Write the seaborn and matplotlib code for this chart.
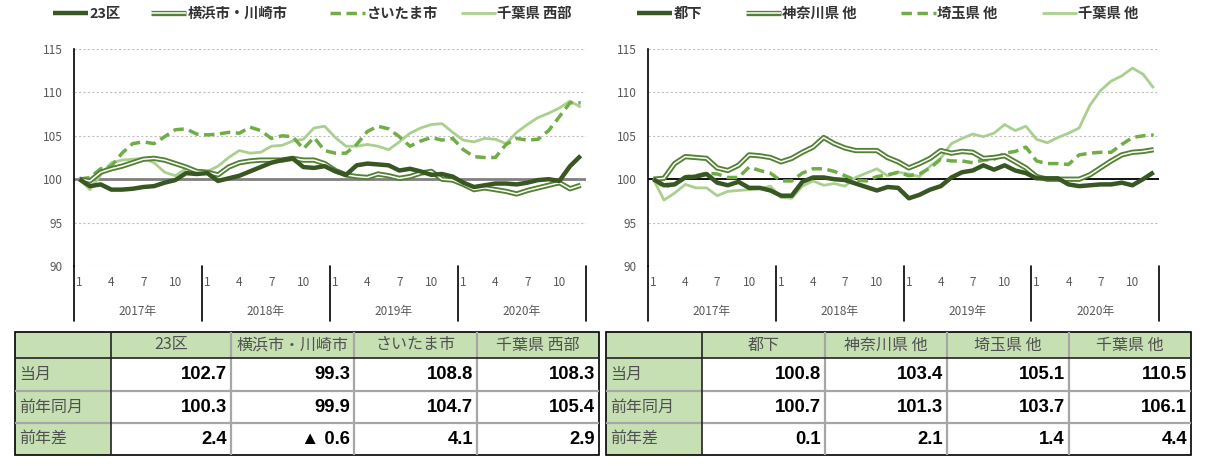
import numpy as np
import pandas as pd
import matplotlib
matplotlib.use("Agg")
import matplotlib.pyplot as plt
import matplotlib.patheffects as pe
from matplotlib.patches import Rectangle
import seaborn as sns

# ---------------- data ----------------
months = [1, 2, 3, 4, 5, 6, 7, 8, 9, 10, 11, 12] * 4
year_labels = ["2017年", "2018年", "2019年", "2020年"]

left_names = ["23区", "横浜市・川崎市", "さいたま市", "千葉県 西部"]
ku23 = [100.0, 99.2, 99.4, 98.8, 98.8, 98.9, 99.1, 99.2, 99.6, 99.9, 100.7, 100.6,
        100.7, 99.8, 100.1, 100.4, 100.9, 101.4, 101.9, 102.2, 102.4, 101.4, 101.3, 101.5,
        100.9, 100.5, 101.6, 101.8, 101.7, 101.6, 101.0, 101.2, 100.9, 100.5, 100.6, 100.3,
        99.6, 99.1, 99.3, 99.5, 99.5, 99.4, 99.6, 99.9, 100.0, 99.8, 101.5, 102.7]
yokohama = [100.0, 99.8, 100.8, 101.2, 101.5, 101.9, 102.3, 102.4, 102.2, 101.8, 101.4, 100.9,
            100.8, 100.5, 101.4, 101.9, 102.1, 102.2, 102.2, 102.2, 102.4, 102.2, 102.2, 101.8,
            101.0, 100.5, 100.3, 100.2, 100.6, 100.4, 100.1, 100.3, 100.7, 100.9, 100.0, 99.9,
            99.4, 98.8, 99.0, 98.8, 98.6, 98.3, 98.7, 99.0, 99.3, 99.6, 98.9, 99.3]
saitama = [100.0, 100.2, 101.2, 101.5, 103.0, 104.1, 104.3, 104.1, 104.9, 105.7, 105.8, 105.2,
           105.1, 105.2, 105.4, 105.3, 106.0, 105.6, 104.7, 105.0, 104.9, 103.5, 104.8, 103.3,
           103.0, 103.0, 104.0, 105.5, 106.1, 105.8, 104.9, 103.8, 104.4, 104.8, 104.5, 104.7,
           103.4, 102.6, 102.5, 102.5, 104.0, 104.7, 104.5, 104.6, 105.6, 107.2, 108.8, 108.8]
chiba_west = [100.0, 98.8, 100.5, 101.9, 102.2, 102.3, 102.4, 101.9, 100.8, 100.4, 101.2, 101.0,
              100.9, 101.5, 102.5, 103.3, 103.0, 103.1, 103.8, 103.9, 104.4, 104.6, 105.9, 106.1,
              104.8, 103.8, 103.8, 104.0, 103.8, 103.4, 104.3, 105.3, 105.9, 106.3, 106.4, 105.4,
              104.5, 104.3, 104.7, 104.6, 104.1, 105.4, 106.3, 107.1, 107.6, 108.2, 109.0, 108.3]

right_names = ["都下", "神奈川県 他", "埼玉県 他", "千葉県 他"]
tokyo_other = [100.0, 99.3, 99.4, 100.2, 100.3, 100.6, 99.6, 99.3, 99.7, 99.0, 99.0, 98.7,
               98.1, 98.1, 99.7, 100.2, 100.2, 100.0, 99.9, 99.5, 99.1, 98.7, 99.1, 99.0,
               97.8, 98.2, 98.8, 99.2, 100.2, 100.8, 101.0, 101.6, 101.1, 101.6, 101.0, 100.7,
               100.1, 100.1, 100.1, 99.4, 99.2, 99.3, 99.4, 99.4, 99.6, 99.3, 100.0, 100.8]
kanagawa_other = [100.0, 100.1, 101.8, 102.6, 102.5, 102.4, 101.3, 101.0, 101.6, 102.8, 102.7, 102.5,
                  102.0, 102.4, 103.1, 103.7, 104.8, 104.1, 103.6, 103.3, 103.3, 103.3, 102.5, 102.0,
                  101.3, 101.8, 102.4, 103.3, 103.0, 103.2, 103.1, 102.4, 102.5, 102.7, 102.0, 101.3,
                  100.3, 100.0, 100.0, 100.0, 100.0, 100.5, 101.3, 102.1, 102.8, 103.1, 103.2, 103.4]
saitama_other = [100.0, 99.1, 99.4, 100.3, 100.4, 100.7, 100.6, 100.2, 100.2, 101.4, 101.0, 100.7,
                 99.8, 99.8, 100.7, 101.2, 101.2, 100.9, 100.4, 99.9, 99.8, 100.3, 100.5, 100.8,
                 100.4, 100.6, 101.3, 102.3, 102.1, 102.1, 101.9, 102.2, 102.3, 103.0, 103.2, 103.7,
                 102.1, 101.8, 101.8, 101.7, 102.8, 103.0, 103.1, 103.1, 104.0, 104.8, 105.0, 105.1]
chiba_other = [100.0, 97.6, 98.4, 99.4, 99.0, 99.0, 98.1, 98.6, 98.7, 98.8, 98.9, 99.2,
               97.9, 97.8, 99.2, 99.8, 99.3, 99.5, 99.2, 100.2, 100.7, 101.2, 100.4, 100.8,
               100.6, 100.3, 101.5, 102.4, 104.1, 104.7, 105.2, 104.9, 105.3, 106.3, 105.6, 106.1,
               104.6, 104.2, 104.8, 105.3, 105.9, 108.5, 110.2, 111.3, 111.9, 112.8, 112.1, 110.5]

row_labels = ["当月", "前年同月", "前年差"]
left_current = [102.7, 99.3, 108.8, 108.3]
left_prev = [100.3, 99.9, 104.7, 105.4]
left_diff = [2.4, -0.6, 4.1, 2.9]
right_current = [100.8, 103.4, 105.1, 110.5]
right_prev = [100.7, 101.3, 103.7, 106.1]
right_diff = [0.1, 2.1, 1.4, 4.4]

# ---------------- style ----------------
sns.set_style("white")
plt.rcParams["font.family"] = ["Noto Sans CJK JP", "DejaVu Sans"]

W, H = 1216, 470
fig = plt.figure(figsize=(W / 100, H / 100), dpi=100)
fig.patch.set_facecolor("white")

C_DARK = "#385723"
C_MID = "#548235"
C_DASH = "#70AD47"
C_LIGHT = "#A9D08E"
TICK_C = "#595959"
GREEN_BG = "#C6E0B4"


def px_axes(x0, x1, ytop, ybot):
    return [x0 / W, 1 - ybot / H, (x1 - x0) / W, (ybot - ytop) / H]


def draw_panel(ax, series, names, ref_color, ref_lw, legend_x):
    x = np.arange(len(months))
    handles = []
    specs = [
        dict(color=C_DARK, lw=3.2, z=6, kind="solid"),
        dict(color=C_MID, lw=1.1, z=5, kind="double"),
        dict(color=C_DASH, lw=2.5, z=4, kind="dash"),
        dict(color=C_LIGHT, lw=2.0, z=3, kind="solid"),
    ]
    for vals, name, sp in zip(series, names, specs):
        df = pd.DataFrame({"x": x, "y": vals})
        if sp["kind"] == "double":
            sns.lineplot(data=df, x="x", y="y", ax=ax, color="white", linewidth=sp["lw"],
                         legend=False, label=name, zorder=sp["z"])
            ln = ax.lines[-1]
            ln.set_path_effects([pe.Stroke(linewidth=3.8, foreground=sp["color"]), pe.Normal()])
        else:
            sns.lineplot(data=df, x="x", y="y", ax=ax, color=sp["color"], linewidth=sp["lw"],
                         legend=False, label=name, zorder=sp["z"])
            ln = ax.lines[-1]
            if sp["kind"] == "dash":
                ln.set_dashes((3, 1.6))
        ln.set_solid_capstyle("butt")
        handles.append(ln)

    ax.axhline(100, color=ref_color, lw=ref_lw, zorder=2)
    ax.set_ylim(90, 115)
    ax.set_xlim(-0.5, len(months) - 0.5)
    ax.set_yticks(range(90, 116, 5))
    ax.yaxis.grid(True, color="#C0C0C0", lw=0.8, linestyle=(0, (2, 2)))
    ax.xaxis.grid(False)
    ax.set_xlabel("")
    ax.set_ylabel("")
    for s in ["top", "right", "bottom"]:
        ax.spines[s].set_visible(False)
    ax.spines["left"].set_color("black")
    ax.spines["left"].set_linewidth(1.2)
    ax.tick_params(axis="y", direction="in", length=3, width=1, color="black",
                   labelsize=8.5, labelcolor=TICK_C, pad=8)
    tick_pos = [i for i, m in enumerate(months) if m in (1, 4, 7, 10)]
    ax.set_xticks(tick_pos, [str(months[i]) for i in tick_pos])
    ax.tick_params(axis="x", length=0, labelsize=8.5, labelcolor=TICK_C, pad=7)
    ax.set_facecolor("none")

    trans = ax.get_xaxis_transform()
    sep_bottom = -55 / 217
    for k in range(len(year_labels) + 1):
        xb = k * 12 - 0.5
        ax.plot([xb, xb], [sep_bottom, 0], transform=trans, color="black", lw=1.2,
                clip_on=False, zorder=7)
    for k, yl in enumerate(year_labels):
        ax.text(k * 12 + 5.5, -45 / 217, yl, transform=trans, ha="center", va="center",
                fontsize=8.5, color=TICK_C)

    for h, name, lx in zip(handles, names, legend_x):
        fig.legend([h], [name], loc="center left", bbox_to_anchor=(lx / W, 1 - 14 / H),
                   bbox_transform=fig.transFigure, frameon=False, borderpad=0,
                   borderaxespad=0, handlelength=2.45, handletextpad=0.1,
                   prop=dict(weight="bold", size=10.3), labelcolor="#333333")


# table overlay axes in pixel coordinates
tab = fig.add_axes([0, 0, 1, 1], zorder=0)
tab.set_xlim(0, W)
tab.set_ylim(H, 0)
tab.axis("off")


def fmt(v):
    return f"▲ {abs(v):.1f}" if v < 0 else f"{v:.1f}"


def draw_table(cols, rows, names, cur, prev, diff):
    data = [cur, prev, diff]
    for r in range(len(rows) - 1):
        for c in range(len(cols) - 1):
            fc = GREEN_BG if (r == 0 or c == 0) else "white"
            tab.add_patch(Rectangle((cols[c], rows[r]), cols[c + 1] - cols[c],
                                    rows[r + 1] - rows[r], facecolor=fc, edgecolor="none"))
    gray = "#A6A6A6"
    tab.vlines(cols[2:-1], rows[0], rows[-1], colors=gray, lw=1.6)
    tab.hlines(rows[2:-1], cols[0], cols[-1], colors=gray, lw=1.6)
    tab.hlines([rows[1]], cols[0], cols[-1], colors="#222222", lw=1.2)
    tab.vlines([cols[1]], rows[0], rows[-1], colors="#222222", lw=1.2)
    tab.add_patch(Rectangle((cols[0], rows[0]), cols[-1] - cols[0], rows[-1] - rows[0],
                            facecolor="none", edgecolor="black", lw=1.2))
    for c, nm in enumerate(names):
        tab.text((cols[c + 1] + cols[c + 2]) / 2, (rows[0] + rows[1]) / 2, nm,
                 ha="center", va="center", fontsize=11.5, color="#505050")
    for r, lab in enumerate(row_labels):
        ym = (rows[r + 1] + rows[r + 2]) / 2
        tab.text(cols[0] + 4, ym, lab, ha="left", va="center", fontsize=11.5, color="#505050")
        for c in range(len(names)):
            tab.text(cols[c + 2] - 4, ym, fmt(data[r][c]), ha="right", va="center",
                     fontsize=13.3, fontweight="bold", color="black",
                     family=["Liberation Sans", "DejaVu Sans"])


axL = fig.add_axes(px_axes(74, 586, 49, 266), zorder=1)
axR = fig.add_axes(px_axes(648, 1159, 49, 266), zorder=1)

draw_panel(axL, [ku23, yokohama, saitama, chiba_west], left_names, "#808080", 2.0,
           [53, 151, 330, 461])
draw_panel(axR, [tokyo_other, kanagawa_other, saitama_other, chiba_other], right_names,
           "black", 1.3, [637, 746, 901, 1042])

rows = [332, 358, 391, 423, 455]
draw_table([15, 111, 231, 354, 477, 599], rows, left_names, left_current, left_prev, left_diff)
draw_table([606, 702, 825, 947, 1069, 1191], rows, right_names, right_current, right_prev,
           right_diff)

fig.savefig("out.png", dpi=100, facecolor="white")
